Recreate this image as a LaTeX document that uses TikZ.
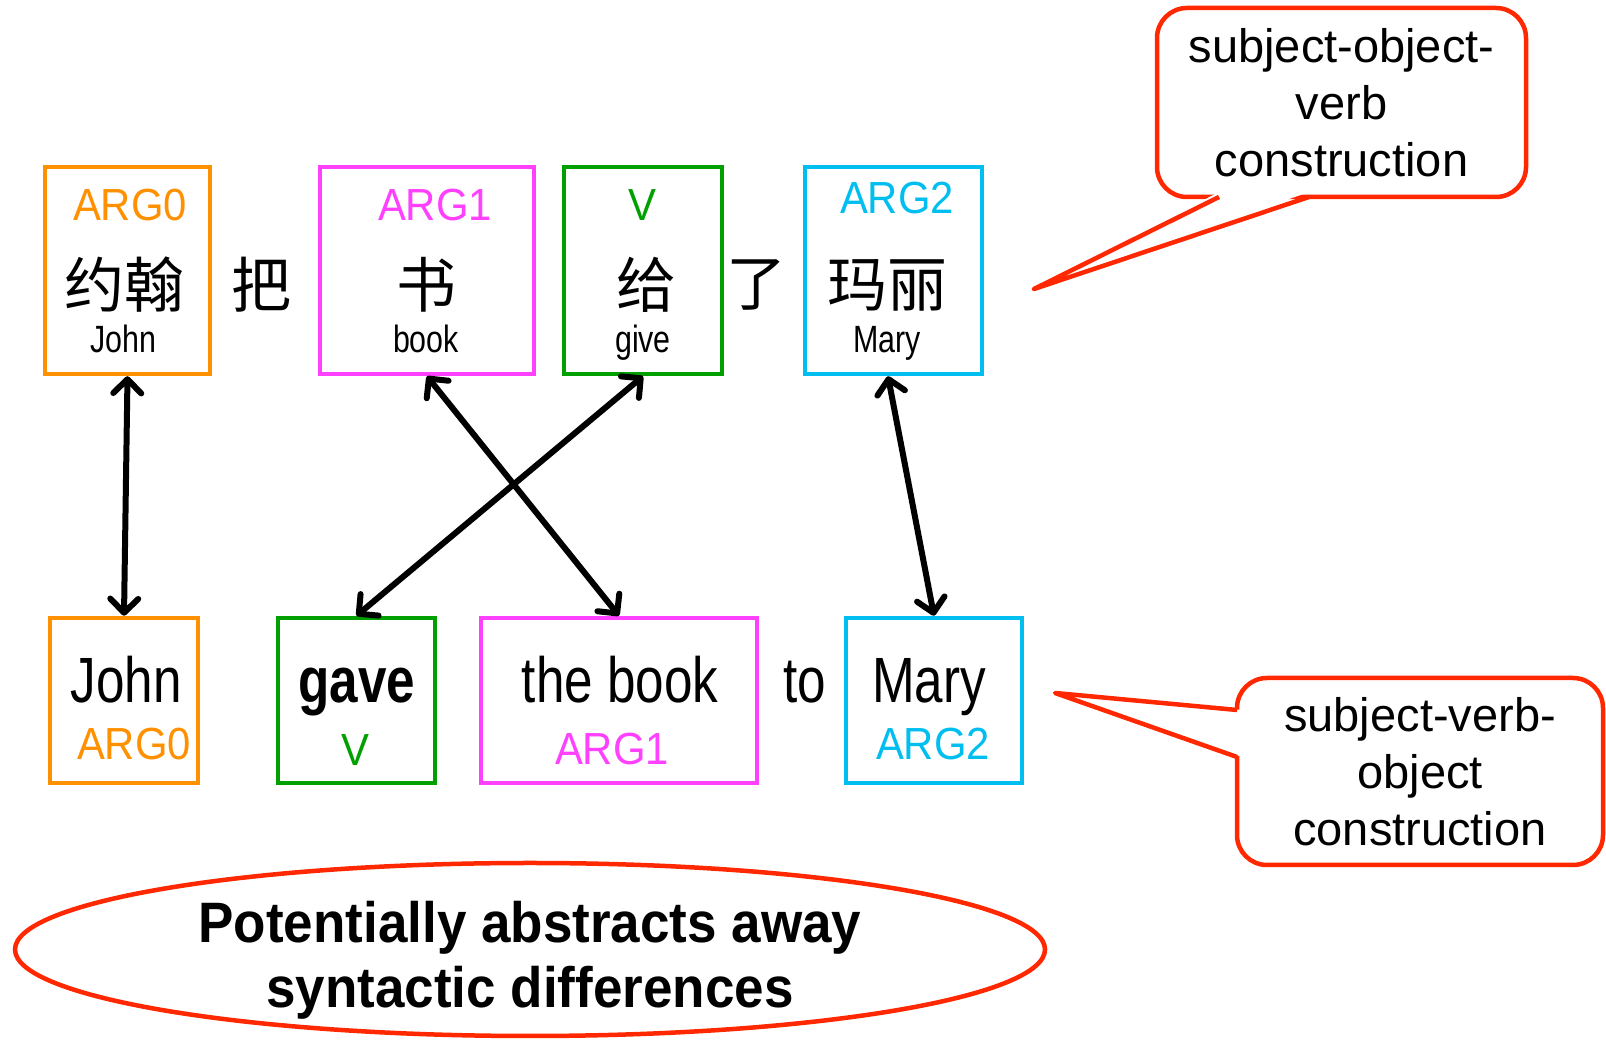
\documentclass[tikz,border=0pt]{standalone}
\usepackage{fontspec}
\setmainfont{Liberation Sans}
\newfontfamily\narrowfont{Liberation Sans}[FakeStretch=0.8]
\newfontfamily\condfont{Liberation Sans}[FakeStretch=0.93]
\newfontfamily\cjkfont{Noto Sans CJK SC}
\usetikzlibrary{positioning, arrows.meta, calc, shapes.geometric}

\definecolor{argzero}{RGB}{255,145,0}
\definecolor{argone}{RGB}{255,64,255}
\definecolor{verbc}{RGB}{0,160,0}
\definecolor{argtwo}{RGB}{0,190,240}
\definecolor{callred}{RGB}{255,40,0}

\begin{document}
\begin{tikzpicture}[
        x=1pt, y=1pt,
        % Stili per le caselle
        box/.style={draw, line width=4.5pt, inner sep=0pt},
        topbox/.style={box, minimum height=207pt},   % caselle della frase cinese
        botbox/.style={box, minimum height=165pt},   % caselle della frase inglese
        % Stili per i testi
        arglabel/.style={font=\condfont\fontsize{45}{54}\selectfont, anchor=base},
        hanzi/.style={font=\cjkfont\fontsize{60}{70}\selectfont},
        gloss/.style={font=\narrowfont\fontsize{38}{46}\selectfont, anchor=base},
        bigword/.style={font=\narrowfont\fontsize{64}{76}\selectfont, anchor=base},
        % Frecce e fumetti
        link/.style={line width=6pt, line cap=round,
            {Straight Barb[length=14pt,width=28pt,round]}-{Straight Barb[length=14pt,width=28pt,round]}},
        callout/.style={draw=callred, line width=4.5pt, rounded corners=30pt, fill=white,
            align=center, inner sep=0pt, font=\fontsize{47}{57}\selectfont},
        tail/.style={draw=callred, line width=4.5pt, line join=round}
    ]
    \useasboundingbox (0,0) rectangle (1606,1040);

    % frase cinese
    \node[topbox, draw=argzero, minimum width=165pt] (yuehan) at (127.5,769.5) {};
    \node[topbox, draw=argone, minimum width=214pt] (shu) at (427,769.5) {};
    \node[topbox, draw=verbc, minimum width=158pt] (gei) at (643,769.5) {};
    \node[topbox, draw=argtwo, minimum width=177pt] (mali) at (893.5,769.5) {};

    \node[arglabel, text=argzero] (yuehan-arg) at (130,819) {ARG0};
    \node[arglabel, text=argone] (shu-arg) at (435,819) {ARG1};
    \node[arglabel, text=verbc] (gei-arg) at (642,819) {V};
    \node[arglabel, text=argtwo] (mali-arg) at (897,826) {ARG2};

    \node[hanzi] (yuehan-zh) at (124,755) {约翰};
    \node[hanzi] (ba) at (261,755) {把};
    \node[hanzi] (shu-zh) at (426,755) {书};
    \node[hanzi] (gei-zh) at (646,755) {给};
    \node[hanzi] (le) at (756,755) {了};
    \node[hanzi] (mali-zh) at (887,755) {玛丽};

    \node[gloss] (yuehan-en) at (123,687) {John};
    \node[gloss] (shu-en) at (426,687) {book};
    \node[gloss] (gei-en) at (643,687) {give};
    \node[gloss] (mali-en) at (887,687) {Mary};

    % frase inglese
    \node[botbox, draw=argzero, minimum width=148pt] (john) at (124,339.5) {};
    \node[botbox, draw=verbc, minimum width=157pt] (gave) at (356.5,339.5) {};
    \node[botbox, draw=argone, minimum width=276pt] (thebook) at (619,339.5) {};
    \node[botbox, draw=argtwo, minimum width=176pt] (mary) at (934,339.5) {};

    \node[bigword] (john-en) at (126,337) {John};
    \node[bigword, font=\narrowfont\bfseries\fontsize{64}{76}\selectfont] (gave-en) at (357,337) {gave};
    \node[bigword] (thebook-en) at (620,337) {the book};
    \node[bigword] (to) at (805,337) {to};
    \node[bigword] (mary-en) at (929,337) {Mary};

    \node[arglabel, text=argzero] (john-arg) at (134,280) {ARG0};
    \node[arglabel, text=verbc] (gave-arg) at (355,274) {V};
    \node[arglabel, text=argone] (thebook-arg) at (612,275) {ARG1};
    \node[arglabel, text=argtwo] (mary-arg) at (933,280) {ARG2};

    % allineamenti
    \draw[link] (yuehan.south) -- (john.north);
    \draw[link] (shu.south) -- (thebook.north);
    \draw[link] (gei.south) -- (gave.north);
    \draw[link] (mali.-93) -- (mary.north);

    % fumetto in alto
    \node[callout, minimum width=369pt, minimum height=189pt] (sov) at (1341.5,937.5)
        {subject-object-\\verb\\construction};
    \coordinate (sov-tip) at (1034,751);
    \coordinate (sov-a) at (1219,843);
    \coordinate (sov-b) at (1309,843);
    \fill[white] (sov-tip) -- ($(sov-a)+(0,5)$) -- ($(sov-b)+(0,5)$) -- cycle;
    \draw[tail] (sov-a) -- (sov-tip) -- (sov-b);

    % fumetto in basso
    \node[callout, minimum width=366pt, minimum height=187pt] (svo) at (1420,268.5)
        {subject-verb-\\object\\construction};
    \coordinate (svo-tip) at (1055,347);
    \coordinate (svo-a) at (1237,330);
    \coordinate (svo-b) at (1237,283);
    \fill[white] (svo-tip) -- ($(svo-a)+(5,0)$) -- ($(svo-b)+(5,0)$) -- cycle;
    \draw[tail] (svo-a) -- (svo-tip) -- (svo-b);

    % ellisse finale
    \node[draw=callred, line width=4.5pt, ellipse, minimum width=1030pt, minimum height=173pt,
        inner sep=0pt] (summary) at (530,90.5) {};
    \node[align=center, font=\condfont\bfseries\fontsize{57}{65}\selectfont]
        (summary-text) at ($(summary)+(0,-11)$) {Potentially abstracts away\\syntactic differences};
\end{tikzpicture}
\end{document}
